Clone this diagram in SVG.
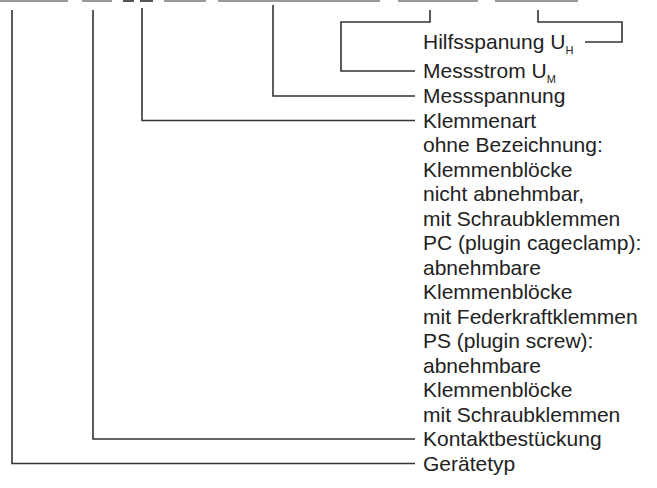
<svg xmlns="http://www.w3.org/2000/svg" width="657" height="488" viewBox="0 0 657 488">
<style>
.c{fill:none;stroke:#333;stroke-width:1.6;}
.t{font-family:"Liberation Sans",Arial,Helvetica,sans-serif;font-size:21px;fill:#222;}
.top{stroke:#999;stroke-width:2;}
.topd{stroke:#555;stroke-width:2;}
</style>
<rect width="657" height="488" fill="#fff"/>
<g id="topbars">
<line class="top" x1="0" y1="1" x2="68" y2="1"/>
<line class="top" x1="82" y1="1" x2="112" y2="1"/>
<line class="topd" x1="123" y1="1" x2="134" y2="1"/>
<line class="topd" x1="140" y1="1" x2="153" y2="1"/>
<line class="top" x1="164" y1="1" x2="206" y2="1"/>
<line class="top" x1="218" y1="1" x2="380" y2="1"/>
<line class="top" x1="398" y1="1" x2="478" y2="1"/>
<line class="top" x1="495" y1="1" x2="578" y2="1"/>
</g>
<g id="connectors">
<polyline class="c" points="538,10 538,22 622,22 622,42 585,42"/>
<polyline class="c" points="430,10 430,22 341,22 341,71 415,71"/>
<polyline class="c" points="273,5 273,96 415,96"/>
<polyline class="c" points="142,8 142,120.5 415,120.5"/>
<polyline class="c" points="93,10 93,439 415,439"/>
<polyline class="c" points="12,10 12,463.5 415,463.5"/>
</g>
<g id="hilfsspanung"><text class="t" x="423" y="49">Hilfsspanung U<tspan font-size="11" dy="5">H</tspan></text></g>
<g id="messstrom"><text class="t" x="423" y="78">Messstrom U<tspan font-size="11" dy="5">M</tspan></text></g>
<g id="messspannung"><text class="t" x="423" y="103">Messspannung</text></g>
<g id="klemmenart">
<text class="t" x="423" y="127.5">Klemmenart</text>
<text class="t" x="423" y="152">ohne Bezeichnung:</text>
<text class="t" x="423" y="176.5">Klemmenblöcke</text>
<text class="t" x="423" y="201">nicht abnehmbar,</text>
<text class="t" x="423" y="225.5">mit Schraubklemmen</text>
<text class="t" x="423" y="250">PC (plugin cageclamp):</text>
<text class="t" x="423" y="274.5">abnehmbare</text>
<text class="t" x="423" y="299">Klemmenblöcke</text>
<text class="t" x="423" y="323.5">mit Federkraftklemmen</text>
<text class="t" x="423" y="348">PS (plugin screw):</text>
<text class="t" x="423" y="372.5">abnehmbare</text>
<text class="t" x="423" y="397">Klemmenblöcke</text>
<text class="t" x="423" y="421.5">mit Schraubklemmen</text>
</g>
<g id="kontaktbestueckung"><text class="t" x="423" y="446">Kontaktbestückung</text></g>
<g id="geraetetyp"><text class="t" x="423" y="470.5">Gerätetyp</text></g>
</svg>
